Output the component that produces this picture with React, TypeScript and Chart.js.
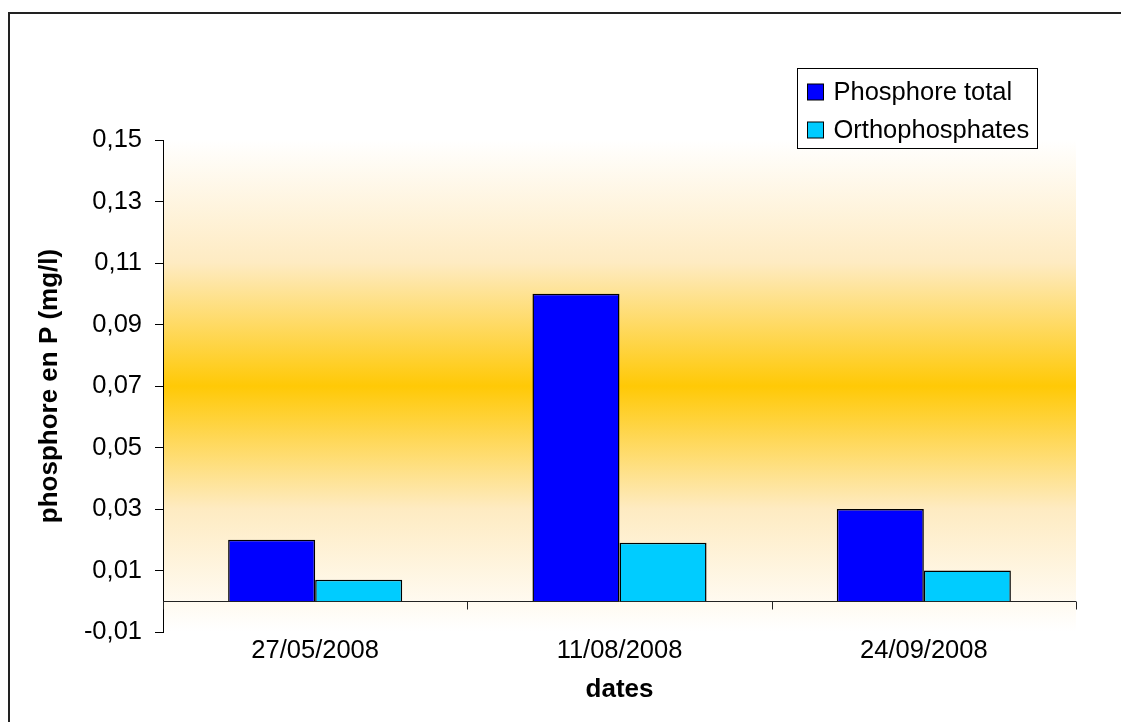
import { useEffect, useRef } from "react";
import { Chart, registerables } from "chart.js";

Chart.register(...registerables);

// Sampling dates and measured phosphorus concentrations (mg/l of P)
const dates = ["27/05/2008", "11/08/2008", "24/09/2008"];
const phosphoreTotal = [0.02, 0.1, 0.03];
const orthophosphates = [0.007, 0.019, 0.01];

const seriesLabels = ["Phosphore total", "Orthophosphates"];
const seriesColors = ["#0000FF", "#00CCFF"];

// Value axis range and step
const yMin = -0.01;
const yMax = 0.15;
const yStep = 0.02;

const FONT = "'Liberation Sans', Arial, Helvetica, sans-serif";

// Vertical white → gold → white wash behind the plot
const bandBackground = {
  id: "bandBackground",
  beforeDraw(chart: any) {
    const { ctx, chartArea } = chart;
    const { left, top, right, bottom } = chartArea;
    const g = ctx.createLinearGradient(0, top, 0, bottom);
    g.addColorStop(0, "#FFFFFF");
    g.addColorStop(0.25, "#FEEBC2");
    g.addColorStop(0.5, "#FFC906");
    g.addColorStop(0.75, "#FEEBC2");
    g.addColorStop(1, "#FFFFFF");
    ctx.save();
    ctx.fillStyle = g;
    ctx.fillRect(left, top, right - left, bottom - top);
    ctx.restore();
  },
};

// Horizontal axis line at value 0 with marks between categories
const zeroAxis = {
  id: "zeroAxis",
  beforeDatasetsDraw(chart: any) {
    const { ctx, chartArea, scales } = chart;
    const xs = scales.x;
    const ys = scales.y;
    const y0 = Math.round(ys.getPixelForValue(0)) + 0.5;
    ctx.save();
    ctx.strokeStyle = "#222";
    ctx.lineWidth = 1;
    ctx.beginPath();
    ctx.moveTo(chartArea.left, y0);
    ctx.lineTo(chartArea.right, y0);
    const n = xs.ticks.length;
    for (let i = 0; i <= n; i++) {
      const px = Math.round(xs.getPixelForValue(i - 0.5)) + 0.5;
      ctx.moveTo(px, y0);
      ctx.lineTo(px, y0 + 8);
    }
    ctx.stroke();
    ctx.restore();
  },
};

// Boxed two-row legend near the top-right of the plot
const boxedLegend = {
  id: "boxedLegend",
  afterDraw(chart: any) {
    const { ctx, chartArea, data } = chart;
    const w = 240;
    const h = 80;
    const bx = Math.round(chartArea.right - 39 - w) + 0.5;
    const by = Math.round(chartArea.top - 72) + 0.5;
    ctx.save();
    ctx.fillStyle = "#FFFFFF";
    ctx.fillRect(bx, by, w, h);
    ctx.strokeStyle = "#000";
    ctx.lineWidth = 1;
    ctx.strokeRect(bx, by, w, h);
    ctx.font = `25.5px ${FONT}`;
    ctx.textBaseline = "middle";
    ctx.textAlign = "left";
    const rows = [23, 61];
    data.datasets.forEach((ds: any, i: number) => {
      const cy = by + rows[i];
      const sq = 16;
      ctx.fillStyle = ds.backgroundColor;
      ctx.fillRect(bx + 10, Math.round(cy - sq / 2), sq, sq);
      ctx.strokeStyle = "#000";
      ctx.lineWidth = 1;
      ctx.strokeRect(bx + 10, Math.round(cy - sq / 2), sq, sq);
      ctx.fillStyle = "#000";
      ctx.fillText(ds.label, bx + 36, cy + 1);
    });
    ctx.restore();
  },
};

export default function App() {
  const canvasRef = useRef<HTMLCanvasElement | null>(null);

  useEffect(() => {
    if (!canvasRef.current) return;
    const chart = new Chart(canvasRef.current, {
      type: "bar",
      data: {
        labels: dates,
        datasets: [
          {
            label: seriesLabels[0],
            data: phosphoreTotal,
            backgroundColor: seriesColors[0],
            borderColor: "#000",
            borderWidth: 1.5,
          },
          {
            label: seriesLabels[1],
            data: orthophosphates,
            backgroundColor: seriesColors[1],
            borderColor: "#000",
            borderWidth: 1.5,
          },
        ],
      },
      options: {
        responsive: false,
        animation: false,
        layout: { padding: { top: 126, right: 45, left: 0, bottom: 0 } },
        datasets: {
          bar: { categoryPercentage: 0.572, barPercentage: 1 },
        },
        plugins: {
          legend: { display: false },
          tooltip: { enabled: false },
        },
        scales: {
          x: {
            grid: { display: false },
            border: { display: false },
            ticks: {
              color: "#000",
              font: { family: FONT, size: 25.5, lineHeight: 1 },
              padding: -2,
              maxRotation: 0,
              autoSkip: false,
            },
            title: {
              display: true,
              text: "dates",
              color: "#000",
              font: { family: FONT, size: 26, weight: "bold", lineHeight: 1.2 },
              padding: { top: 0, bottom: 17 },
            },
            afterFit: (s: any) => {
              s.height = 90;
            },
          },
          y: {
            min: yMin,
            max: yMax,
            ticks: {
              stepSize: yStep,
              color: "#000",
              font: { family: FONT, size: 25.5 },
              padding: 13,
              callback: (v: any) => Number(v).toFixed(2).replace(".", ","),
            },
            grid: {
              drawOnChartArea: false,
              drawTicks: true,
              tickLength: 8,
              tickColor: "#000",
              lineWidth: 1,
            },
            border: { display: true, color: "#000", width: 1 },
            title: {
              display: true,
              text: "phosphore en P (mg/l)",
              color: "#000",
              font: { family: FONT, size: 26, weight: "bold", lineHeight: 1.2 },
              padding: { top: 24, bottom: 0 },
            },
            afterFit: (s: any) => {
              s.width = 153;
            },
          },
        },
      },
      plugins: [bandBackground, zeroAxis, boxedLegend],
    } as any);
    return () => chart.destroy();
  }, []);

  return (
    <div
      style={{
        position: "absolute",
        left: 8,
        top: 12,
        borderLeft: "2px solid #222",
        borderTop: "2px solid #222",
        background: "#fff",
      }}
    >
      <canvas ref={canvasRef} width={1111} height={708} style={{ display: "block" }} />
    </div>
  );
}
